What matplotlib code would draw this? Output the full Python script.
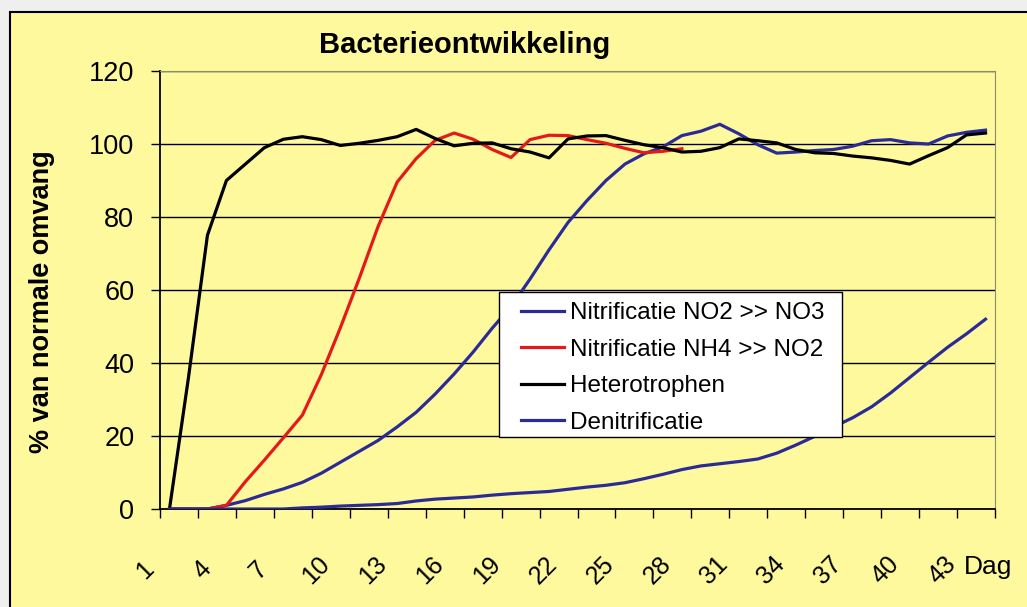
import matplotlib
matplotlib.use("Agg")
import matplotlib.pyplot as plt
import numpy as np
from matplotlib.patches import Rectangle
from matplotlib.transforms import ScaledTranslation

# days 1..44 (category axis)
days = list(range(1, 45))
day_labels = list(range(1, 44, 3))

no2_no3 = [0, 0, 0, 1, 2.3, 4, 5.5, 7.3, 9.8, 12.8, 15.8, 18.8, 22.5, 26.5, 31.5,
           37, 43, 49.5, 55.5, 63, 71, 78.5, 84.5, 90, 94.5, 97.3, 99.2, 102.3,
           103.5, 105.4, 102.8, 99.8, 97.5, 97.8, 98.2, 98.5, 99.4, 100.9, 101.2,
           100.3, 100, 102.2, 103.2, 103.8]
nh4_no2 = [0, 0, 0, 1, 7.5, 13.4, 19.5, 25.7, 36.8, 49.6, 63.2, 77.5, 89.6, 96,
           101, 103, 101.3, 98.5, 96.3, 101.2, 102.4, 102.3, 101.2, 100.2, 98.8,
           97.6, 98, 98.7]
hetero = [0, 36, 75, 90, 94.5, 99, 101.3, 102, 101.2, 99.6, 100.2, 101, 102, 104,
          101.5, 99.5, 100.2, 100.3, 98.7, 97.8, 96.2, 101.4, 102.2, 102.3, 101,
          99.8, 99, 97.8, 98, 99, 101.4, 100.9, 100.3, 98.5, 97.6, 97.4, 96.7,
          96.2, 95.5, 94.5, 96.8, 99, 102.5, 103]
denit = [0, 0, 0, 0, 0, 0, 0, 0.3, 0.5, 0.8, 1.0, 1.2, 1.5, 2.2, 2.7, 3.0, 3.3,
         3.8, 4.2, 4.5, 4.8, 5.4, 6.0, 6.5, 7.2, 8.3, 9.5, 10.8, 11.8, 12.4, 13.0,
         13.7, 15.3, 17.5, 19.9, 22.5, 25, 28, 31.8, 36, 40.2, 44.3, 48, 52]

series_names = ["Nitrificatie NO2 >> NO3", "Nitrificatie NH4 >> NO2",
                "Heterotrophen", "Denitrificatie"]

YELLOW = "#FFF99E"
BLUE = "#2B2B96"
RED = "#E41A1A"

plt.rcParams["font.family"] = ["Liberation Sans", "DejaVu Sans"]

W, H = 1027, 607
fig = plt.figure(figsize=(W / 100, H / 100), dpi=100, facecolor="#EFEFEF")

# chart area (runs off the right/bottom edge of the picture)
fig.patches.append(Rectangle((10 / W, -0.02), 1.0, 1 - 12 / H + 0.02,
                             transform=fig.transFigure, facecolor=YELLOW,
                             edgecolor="black", lw=1.5, zorder=-1))

ax = fig.add_axes([160 / W, 98 / H, 835 / W, 438 / H])
ax.set_zorder(1)
ax.set_facecolor(YELLOW)

ax.plot(days, no2_no3, color=BLUE, lw=2.3, label=series_names[0], zorder=3)
ax.plot(days[:len(nh4_no2)], nh4_no2, color=RED, lw=2.3, label=series_names[1], zorder=3)
ax.plot(days, hetero, color="black", lw=2.3, label=series_names[2], zorder=3)
ax.plot(days, denit, color=BLUE, lw=2.3, label=series_names[3], zorder=3)

ax.set_xlim(0.5, 44.5)
ax.set_ylim(0, 120)

# y axis
ax.set_yticks(range(0, 121, 20))
ax.tick_params(axis="y", direction="out", length=6.5, width=1, pad=12, labelsize=19.5)
ax.grid(axis="y", color="black", lw=1.0, zorder=1)
ax.set_axisbelow(True)

# x axis: tick marks every 2 days, labels every 3 days
ax.set_xticks(np.arange(0.5, 45, 2))
ax.set_xticklabels([])
ax.tick_params(axis="x", which="major", direction="out", length=6.5, width=1)
ax.set_xticks(day_labels, minor=True)
ax.set_xticklabels([str(d) for d in day_labels], minor=True, rotation=45,
                   ha="center", va="center", fontsize=18)
ax.tick_params(axis="x", which="minor", length=0, pad=44)
shift = ScaledTranslation(-0.245, 0, fig.dpi_scale_trans)
for lab in ax.get_xticklabels(minor=True):
    lab.set_transform(lab.get_transform() + shift)

for side in ("left", "bottom"):
    ax.spines[side].set_color("black")
    ax.spines[side].set_linewidth(1.3)
for side in ("top", "right"):
    ax.spines[side].set_color("#8C8C6A")
    ax.spines[side].set_linewidth(0.8)

ax.text((988 - 160) / 835, (509 - 567) / 438, "Dag", transform=ax.transAxes,
        ha="center", va="center", fontsize=19)

ax.set_ylabel("% van normale omvang", fontsize=19.5, fontweight="bold")
ax.yaxis.set_label_coords((55 - 160) / 835, (509 - 302) / 438)

fig.text(465 / W, 1 - 45 / H, "Bacterieontwikkeling", ha="center", va="center",
         fontsize=21, fontweight="bold")

# legend box
bx0, bx1 = (499 - 160) / 835, (842 - 160) / 835
by0, by1 = (509 - 437) / 438, (509 - 292) / 438
ax.add_patch(Rectangle((bx0, by0), bx1 - bx0, by1 - by0, transform=ax.transAxes,
                       facecolor="white", edgecolor="black", lw=1.0, zorder=5))
leg = ax.legend(loc="upper left", bbox_to_anchor=((521 - 160) / 835, (509 - 302) / 438),
                frameon=False, borderpad=0, borderaxespad=0, fontsize=17.5,
                handlelength=1.75, handletextpad=0.25, labelspacing=0.6)
leg.set_zorder(6)

fig.savefig("out.png", dpi=100, facecolor=fig.get_facecolor())
